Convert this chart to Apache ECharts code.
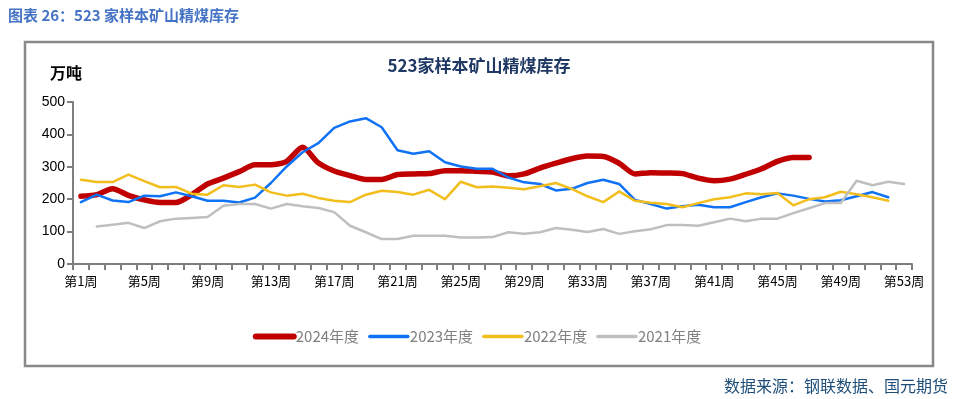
<!DOCTYPE html>
<html>
<head>
<meta charset="utf-8">
<script src="https://cdn.jsdelivr.net/npm/echarts@6/dist/echarts.min.js"></script>
<style>
  html, body { margin: 0; padding: 0; background: #fff; }
  #chart { width: 954px; height: 399px; }
</style>
</head>
<body>
<div id="chart"></div>
<script>
const weeks = [
  '第1周', '第2周', '第3周', '第4周', '第5周', '第6周', '第7周', '第8周', '第9周', '第10周',
  '第11周', '第12周', '第13周', '第14周', '第15周', '第16周', '第17周', '第18周', '第19周', '第20周',
  '第21周', '第22周', '第23周', '第24周', '第25周', '第26周', '第27周', '第28周', '第29周', '第30周',
  '第31周', '第32周', '第33周', '第34周', '第35周', '第36周', '第37周', '第38周', '第39周', '第40周',
  '第41周', '第42周', '第43周', '第44周', '第45周', '第46周', '第47周', '第48周', '第49周', '第50周',
  '第51周', '第52周', '第53周'
]

const y2024 = [
  209, 214, 232, 212, 198, 190, 190, 214, 247, 265,
  285, 306, 306, 317, 360, 312, 287, 273, 261, 261,
  276, 278, 279, 288, 288, 286, 284, 272, 278, 296,
  311, 325, 333, 332, 311, 278, 282, 281, 279, 265,
  257, 262, 277, 294, 317, 329, 329
]

const y2023 = [
  191, 214, 196, 191, 211, 209, 221, 209, 195, 195,
  190, 205, 250, 301, 345, 373, 420, 440, 450, 422,
  351, 340, 348, 314, 301, 294, 294, 267, 252, 247,
  227, 232, 250, 260, 247, 198, 185, 171, 178, 183,
  175, 175, 191, 206, 218, 211, 201, 193, 197, 209,
  222, 206
]

const y2022 = [
  260, 253, 253, 276, 256, 237, 238, 217, 214, 243,
  238, 245, 221, 211, 217, 204, 195, 191, 214, 226,
  222, 214, 229, 200, 254, 237, 239, 235, 231, 240,
  250, 232, 209, 191, 224, 195, 189, 185, 175, 188,
  200, 206, 218, 215, 219, 181, 200, 206, 223, 215,
  206, 195
]

const y2021 = [
  null, 116, 121, 127, 111, 132, 140, 142, 145, 180,
  185, 185, 171, 185, 178, 173, 160, 118, 98, 77,
  77, 87, 87, 87, 82, 82, 83, 98, 93, 98,
  111, 106, 99, 108, 93, 101, 107, 120, 120, 118,
  129, 140, 132, 140, 140, 157, 172, 188, 188, 257,
  243, 254, 247
]

const yTicks = [0, 100, 200, 300, 400, 500]

const chart = echarts.init(document.getElementById('chart'))

const colors = { c2024: '#C00000', c2023: '#0F72F5', c2022: '#F2BE1E', c2021: '#BFBFBF' }

const lineSeries = (name, data, color, width, smooth) => ({
  name,
  type: 'line',
  data,
  symbol: 'none',
  smooth,
  connectNulls: false,
  lineStyle: { color, width, cap: 'round', join: 'round' },
  itemStyle: { color },
})

const legendItem = (name, color, width) => ({
  name,
  itemStyle: { opacity: 0 },
  lineStyle: { color, width, cap: 'round' },
})

chart.setOption({
  animation: false,
  grid: { left: 73, right: 42, top: 102, bottom: 135 },
  graphic: [
    {
      type: 'text',
      left: 8, top: 8,
      style: {
        text: '图表 26：523 家样本矿山精煤库存',
        fill: '#4472C4',
        font: 'bold 15px "Noto Sans CJK SC"',
      },
    },
    {
      type: 'rect',
      shape: { x: 25, y: 42, width: 908, height: 324 },
      style: { fill: 'none', stroke: '#888888', lineWidth: 2.5 },
      z: -1,
    },
    {
      type: 'text',
      x: 479, y: 66,
      style: {
        text: '523家样本矿山精煤库存',
        fill: '#1F3864',
        font: 'bold 17px "Noto Sans CJK SC"',
        align: 'center',
        verticalAlign: 'middle',
      },
    },
    {
      type: 'text',
      x: 50, y: 73,
      style: {
        text: '万吨',
        fill: '#000',
        font: 'bold 16px "Noto Sans CJK SC"',
        verticalAlign: 'middle',
      },
    },
    {
      type: 'text',
      x: 948, y: 386,
      style: {
        text: '数据来源：钢联数据、国元期货',
        fill: '#1F4E79',
        font: '16px "Noto Sans CJK SC"',
        align: 'right',
        verticalAlign: 'middle',
      },
    },
  ],
  legend: {
    top: 324,
    left: 'center',
    itemWidth: 38,
    itemHeight: 14,
    itemGap: 9,
    textStyle: { color: '#808080', fontSize: 15, fontFamily: '"Noto Sans CJK SC"', padding: [0, 0, 0, -3] },
    data: [
      legendItem('2024年度', colors.c2024, 6),
      legendItem('2023年度', colors.c2023, 3.5),
      legendItem('2022年度', colors.c2022, 3.5),
      legendItem('2021年度', colors.c2021, 3.5),
    ],
  },
  xAxis: {
    type: 'category',
    data: weeks,
    boundaryGap: true,
    axisLine: { lineStyle: { color: '#7F7F7F', width: 2 } },
    axisTick: { show: true, interval: 0, length: 6, lineStyle: { color: '#7F7F7F', width: 2 } },
    axisLabel: {
      interval: 3,
      color: '#000',
      fontSize: 13,
      fontFamily: '"Noto Sans CJK SC"',
      margin: 11,
    },
    splitLine: { show: false },
  },
  yAxis: {
    type: 'value',
    min: yTicks[0],
    max: yTicks[yTicks.length - 1],
    interval: 100,
    axisLine: { show: true, lineStyle: { color: '#7F7F7F', width: 2 } },
    axisTick: { show: true, length: 6, lineStyle: { color: '#7F7F7F', width: 2 } },
    axisLabel: { color: '#000', fontSize: 14, fontFamily: '"Liberation Sans", Arial', margin: 8 },
    splitLine: { show: false },
  },
  series: [
    lineSeries('2024年度', y2024, colors.c2024, 5.5, 0.25),
    lineSeries('2023年度', y2023, colors.c2023, 2.5, false),
    lineSeries('2022年度', y2022, colors.c2022, 2.5, false),
    lineSeries('2021年度', y2021, colors.c2021, 2.5, false),
  ],
})
</script>
</body>
</html>
